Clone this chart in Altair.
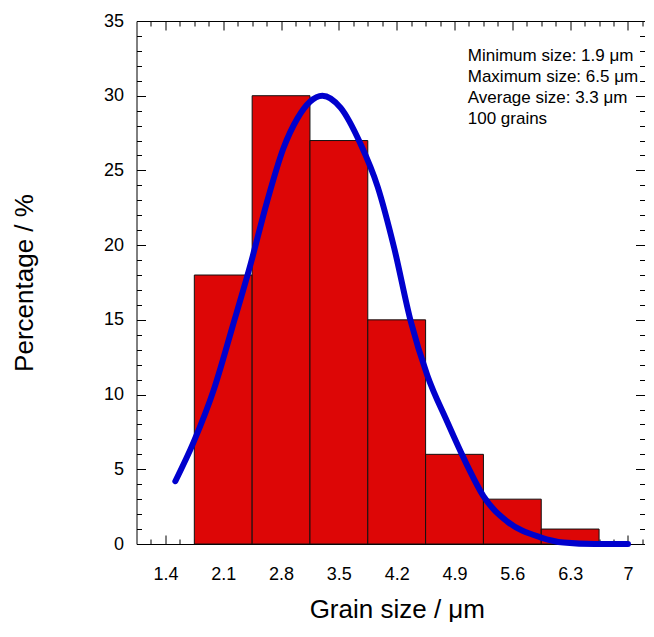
import altair as alt
import pandas as pd

# ---- data ----
bin_left = [1.75, 2.45, 3.15, 3.85, 4.55, 5.25, 5.95]
bin_right = [2.45, 3.15, 3.85, 4.55, 5.25, 5.95, 6.65]
percent = [18, 30, 27, 15, 6, 3, 1]

curve_x = [1.52, 1.74, 1.99, 2.21, 2.43, 2.63, 2.83, 3.0, 3.15, 3.3, 3.52, 3.76,
           3.97, 4.17, 4.37, 4.57, 4.81, 5.05, 5.25, 5.54, 5.94, 6.22, 6.6, 7.0]
curve_y = [4.2, 6.8, 10.4, 14.5, 18.7, 22.9, 26.5, 28.5, 29.6, 30.0, 29.2, 26.8,
           23.9, 19.8, 14.9, 11.3, 8.2, 5.3, 3.2, 1.5, 0.45, 0.1, 0.0, 0.0]

x_major = [1.4, 2.1, 2.8, 3.5, 4.2, 4.9, 5.6, 6.3, 7.0]
x_minor = [1.225, 1.575, 1.75, 1.925, 2.275, 2.45, 2.625, 2.975, 3.15, 3.325,
           3.675, 3.85, 4.025, 4.375, 4.55, 4.725, 5.075, 5.25, 5.425, 5.775,
           5.95, 6.125, 6.475, 6.65, 6.825, 7.175]
y_major = [0, 5, 10, 15, 20, 25, 30, 35]
y_minor = [v for v in range(0, 36) if v % 5 != 0]

info_lines = ["Minimum size: 1.9 \u03bcm", "Maximum size: 6.5 \u03bcm",
              "Average size: 3.3 \u03bcm", "100 grains"]
info_pos = [5.06, 32.33]

W, H = 508, 523
FONT = "Liberation Sans"

bars_df = pd.DataFrame({"left": bin_left, "right": bin_right, "pct": percent})
curve_df = pd.DataFrame({"size": curve_x, "pct": curve_y})

xscale = alt.Scale(domain=[1.05, 7.2], nice=False, zero=False)
yscale = alt.Scale(domain=[0, 35], nice=False, zero=False)

bars = alt.Chart(bars_df).mark_rect(
    color="#DD0606", stroke="#111111", strokeWidth=1
).encode(
    x=alt.X("left:Q", scale=xscale, axis=alt.Axis(
        orient="bottom", values=x_major, format="~g", ticks=False, tickSize=0,
        labelFontSize=18, labelPadding=21, labelColor="black", labelFont=FONT,
        domain=True, domainColor="black", domainWidth=1, grid=False,
        title="Grain size / \u03bcm", titleFontSize=26, titleFontWeight="normal",
        titleFont=FONT, titleColor="black", titleX=260.3, titleY=73,
        titleBaseline="alphabetic", titleAlign="center")),
    x2="right:Q",
    y=alt.Y("pct:Q", scale=yscale, axis=alt.Axis(
        orient="left", values=y_major, ticks=False, tickSize=0,
        labelFontSize=18, labelPadding=13, labelColor="black", labelFont=FONT,
        domain=True, domainColor="black", domainWidth=1, grid=False,
        title="Percentage / %", titleFontSize=26, titleFontWeight="normal",
        titleFont=FONT, titleColor="black", titleAngle=270, titleX=-103.7,
        titleY=H / 2, titleBaseline="alphabetic", titleAlign="center")),
    y2=alt.datum(0),
)


def tick_layer(xorient, yorient, xvals, yvals, size, xdomain):
    return alt.Chart(bars_df).mark_point(opacity=0).encode(
        x=alt.X("left:Q", scale=xscale, axis=alt.Axis(
            orient=xorient, offset=-H, values=xvals, tickSize=size, ticks=True,
            tickColor="black", tickWidth=1, labels=False, domain=xdomain,
            domainColor="black", domainWidth=1, grid=False, title=None)),
        y=alt.Y("pct:Q", scale=yscale, axis=alt.Axis(
            orient=yorient, offset=-W, values=yvals, tickSize=size, ticks=True,
            tickColor="black", tickWidth=1, labels=False, domain=False,
            grid=False, title=None)),
    )


ticks_in_major = tick_layer("top", "right", x_major, y_major, 9, False)
ticks_in_minor = tick_layer("top", "right", x_minor, y_minor, 5, False)
ticks_out_major = tick_layer("bottom", "left", x_major, y_major, 9, True)
ticks_out_minor = tick_layer("bottom", "left", x_minor, y_minor, 5, False)

curve = alt.Chart(curve_df).mark_line(
    color="#0000CD", strokeWidth=6, interpolate="monotone", strokeCap="round"
).encode(
    x=alt.X("size:Q", scale=xscale, axis=None),
    y=alt.Y("pct:Q", scale=yscale, axis=None),
)

info = alt.Chart(pd.DataFrame({"x": [info_pos[0]], "y": [info_pos[1]]})).mark_text(
    align="left", baseline="alphabetic", fontSize=17, font=FONT, color="black",
    lineHeight=21.2
).encode(
    x=alt.X("x:Q", scale=xscale, axis=None),
    y=alt.Y("y:Q", scale=yscale, axis=None),
    text=alt.value(info_lines),
)

chart = alt.layer(
    bars, ticks_in_major, ticks_in_minor, ticks_out_major, ticks_out_minor,
    curve, info
).resolve_axis(
    x="independent", y="independent"
).properties(
    width=W, height=H,
    padding={"left": 3.5, "top": 4, "right": 0, "bottom": 0},
    background="white",
).configure_view(stroke=None)

chart.save("out.html", embed_options={"renderer": "svg", "actions": False})
